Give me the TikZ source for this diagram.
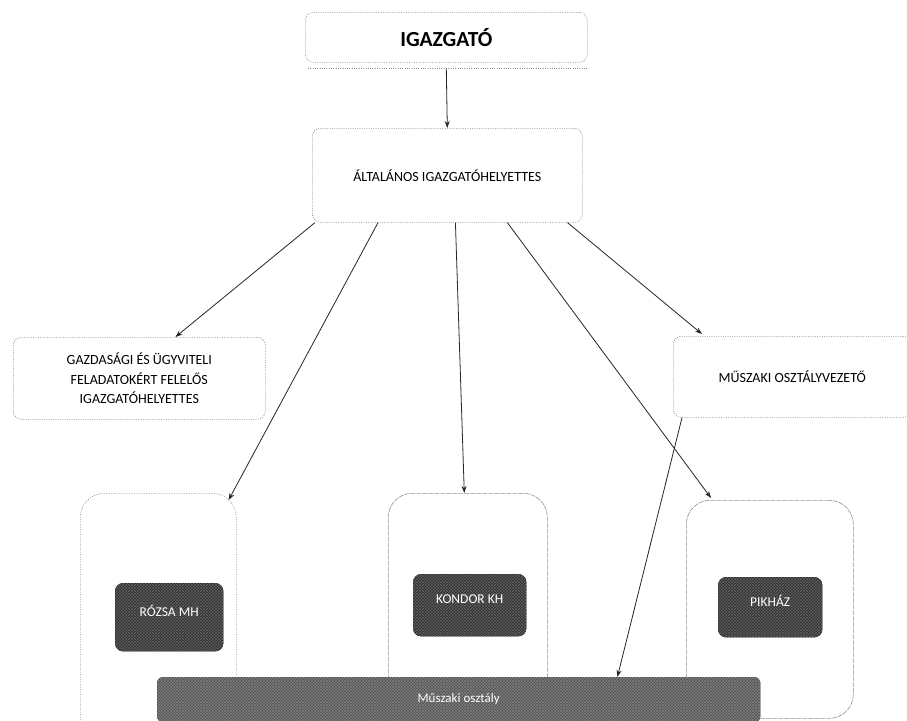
\documentclass[tikz,border=0pt]{standalone}
\usepackage{fontspec}
\setmainfont{Carlito}
\usetikzlibrary{arrows.meta,calc,patterns}
\begin{document}
\begin{tikzpicture}[x=1pt,y=-1pt,
  lbox/.style={draw=gray!90, dash pattern=on 1pt off 1.3pt, rounded corners=8pt, line width=0.6pt,
    inner sep=0pt, align=center, text=black, anchor=north west},
  cont/.style={draw=gray!85, line width=0.6pt, rounded corners=24pt, inner sep=0pt, anchor=north west},
  dotcont/.style={cont, dash pattern=on 1pt off 1.5pt},
  dashcont/.style={cont, dash pattern=on 5pt off 1pt},
  darkbox/.style={fill=black!82, draw=black!90, rounded corners=8pt, text=white, inner sep=0pt,
    anchor=north west, font=\fontsize{13.5}{15}\selectfont, text depth=12pt,
    postaction={pattern=crosshatch, pattern color=black!62}},
  barbox/.style={fill=black!68, draw=black!75, rounded corners=6pt, text=white, inner sep=0pt,
    anchor=north west, font=\fontsize{13}{15}\selectfont, text depth=4pt,
    postaction={pattern=crosshatch, pattern color=black!50}},
  conn/.style={draw=black!85, line width=0.8pt, -{Stealth[length=7pt,width=5pt]}},
  shadowline/.style={draw=gray!90, dash pattern=on 1pt off 1.3pt, line width=0.6pt}]
\useasboundingbox (0,0) rectangle (907,720);
\clip (0,0) rectangle (907,720);
\fill[white] (0,0) rectangle (907,720);

% top boxes
\node[lbox, minimum width=282, minimum height=50, font=\fontsize{21.5}{24}\selectfont\bfseries] (igaz) at (305,12) {IGAZGATÓ};
\draw[shadowline] ($(igaz.south west)+(3,6)$) -- ($(igaz.south east)+(0,6)$);
\node[lbox, minimum width=270, minimum height=94, font=\fontsize{14}{17}\selectfont] (alt) at (312,128) {ÁLTALÁNOS IGAZGATÓHELYETTES};
\node[lbox, minimum width=252, minimum height=82, font=\fontsize{14}{19.5}\selectfont] (gazd) at (13,337) {GAZDASÁGI ÉS ÜGYVITELI\\FELADATOKÉRT FELELŐS\\IGAZGATÓHELYETTES};
\node[lbox, minimum width=238, minimum height=81, font=\fontsize{14}{17}\selectfont] (musz) at (673,336) {MŰSZAKI OSZTÁLYVEZETŐ};

% containers
\node[dotcont, minimum width=156, minimum height=260] (roz) at (80,493) {};
\node[dashcont, minimum width=159, minimum height=240] (kon) at (388,493) {};
\node[dashcont, minimum width=167, minimum height=218] (pik) at (686,500) {};

% dark units
\node[darkbox, minimum width=108, minimum height=68] (rmh) at (115,583) {RÓZSA MH};
\node[darkbox, minimum width=113, minimum height=62] (kkh) at (413,574) {KONDOR KH};
\node[darkbox, minimum width=104, minimum height=60] (pkh) at (718,577) {PIKHÁZ};

% bar
\node[barbox, minimum width=603, minimum height=45] (bar) at (157,677) {Műszaki osztály};

% connectors
\draw[conn] ($(igaz.south)+(0,6)$) -- (alt.north);
\draw[conn] ($(alt.south west)!0.011!(alt.south east)$) -- ($(gazd.north west)!0.643!(gazd.north east)$);
\draw[conn] ($(alt.south west)!0.244!(alt.south east)$) -- ($(roz.north east)+(-8,7)$);
\draw[conn] ($(alt.south west)!0.53!(alt.south east)$) -- ($(kon.north west)!0.478!(kon.north east)$);
\draw[conn] ($(alt.south west)!0.722!(alt.south east)$) -- ($(pik.north west)+(25,-2)$);
\draw[conn] ($(alt.south west)!0.944!(alt.south east)$) -- ($(musz.north west)+(29,-2)$);
\draw[conn] ($(musz.south west)+(9,0)$) -- ($(bar.north west)!0.763!(bar.north east)$);
\end{tikzpicture}
\end{document}
